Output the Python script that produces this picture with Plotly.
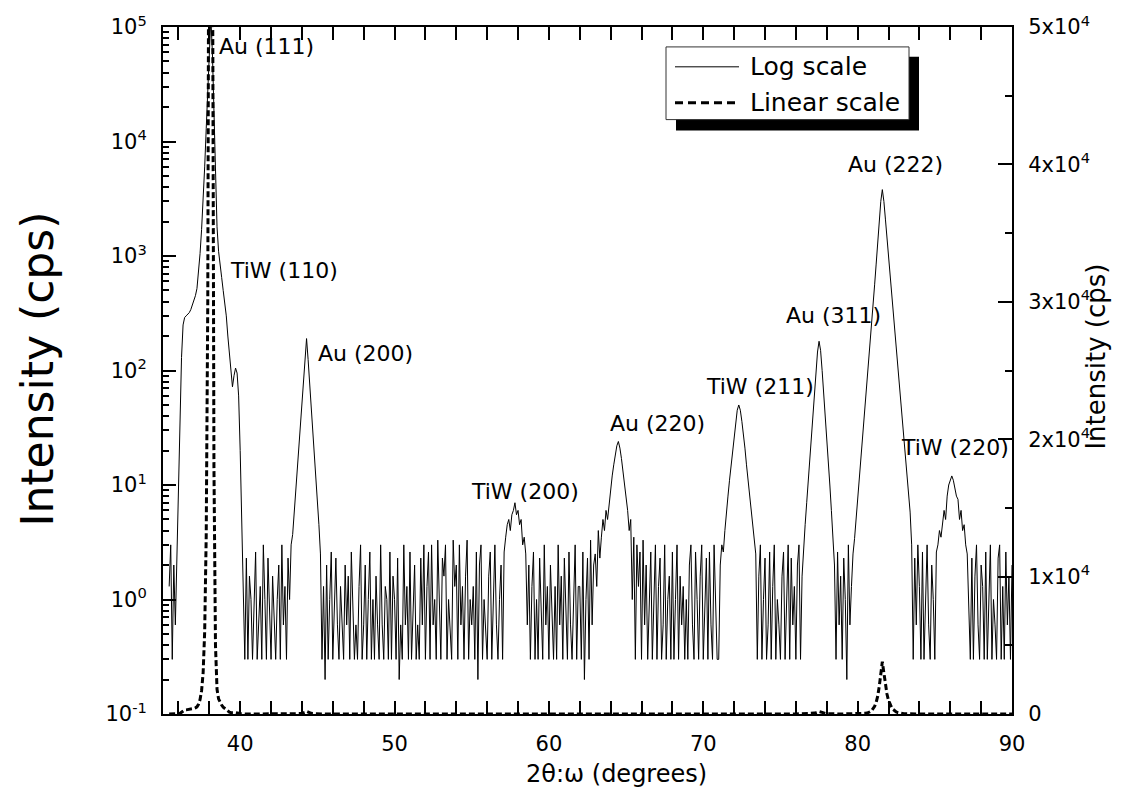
import plotly.graph_objects as go

# ---------------- data ----------------
# 2theta sampling grid: 35.4 deg .. 90.0 deg, 0.1 deg steps
two_theta_start = 35.4
two_theta_step = 0.1

# measured intensity (cps), one row per degree
intensity_cps = [
    1.3, 3, 0.3, 2, 0.6, 2.6,                                   # 35.4-35.9
    8, 40, 130, 250, 290, 300, 310, 320, 340, 370,              # 36
    400, 450, 520, 700, 1050, 1700, 3000, 6000, 13000, 30000,   # 37
    70000, 120000, 60000, 18000, 5000, 1800, 1100, 800, 650, 500,  # 38
    400, 300, 200, 140, 95, 72, 90, 105, 95, 60,                # 39
    20, 5, 1.3, 0.3, 2.3, 0.3, 1.6, 1, 0.3, 1,                  # 40
    2.6, 0.3, 0.6, 1.3, 0.3, 3, 1, 0.3, 2.3, 0.6,               # 41
    0.3, 1.6, 0.6, 0.3, 1, 2, 0.3, 3, 0.6, 1.3,                 # 42
    0.3, 2.3, 1, 3, 3.7, 5.6, 8.5, 13, 20, 30,                  # 43
    45, 70, 115, 190, 125, 80, 50, 32, 20, 12,                  # 44
    7.5, 4.5, 2.5, 0.3, 1.3, 0.2, 2, 0.3, 1, 2.6,               # 45
    0.3, 1, 2.3, 0.6, 0.3, 1.3, 0.6, 0.3, 2, 0.6,               # 46
    1.6, 0.3, 2.6, 1, 0.3, 0.6, 0.3, 1.3, 3, 0.3,               # 47
    0.6, 2, 0.3, 1, 2.6, 0.3, 1, 0.3, 1.6, 0.6,                 # 48
    0.3, 3, 0.6, 0.3, 1.3, 1, 0.3, 2.6, 0.3, 1.6,               # 49
    1, 0.3, 2.3, 0.2, 0.6, 0.3, 3, 0.6, 1.3, 0.3,               # 50
    2.6, 0.3, 1, 2, 0.3, 0.6, 0.3, 2.3, 0.6, 3,                 # 51
    0.3, 1.3, 2.6, 0.3, 3, 0.6, 1, 0.3, 3.3, 1,                 # 52
    0.3, 2.3, 1.6, 3, 0.3, 1, 0.6, 0.3, 3.3, 1.3,               # 53
    2, 0.3, 3, 0.6, 1.3, 0.3, 1.6, 3.3, 0.3, 1,                 # 54
    0.6, 1.3, 0.3, 2.6, 0.2, 2, 3, 0.3, 1, 0.6,                 # 55
    0.3, 1.6, 2.6, 0.3, 1.3, 3, 0.6, 0.3, 1, 2,                 # 56
    0.3, 2.6, 3.5, 4.5, 5, 4, 5.5, 6, 7, 5.5,                   # 57
    6, 4.5, 5, 3, 3.5, 2.5, 0.6, 2, 0.3, 1.3,                   # 58
    2.6, 0.3, 1, 0.3, 2.3, 1, 0.3, 3, 0.6, 1.3,                 # 59
    0.3, 2, 0.6, 0.3, 1.3, 0.3, 3, 0.6, 1.6, 0.3,               # 60
    2.3, 1, 0.3, 2.6, 0.6, 0.3, 1, 3, 0.3, 1.3,                 # 61
    1.3, 0.3, 2.6, 0.2, 1, 2.3, 0.3, 3.3, 0.6, 2,               # 62
    2.5, 1.3, 4, 2.3, 3.5, 5, 4, 6, 5, 7,                       # 63
    9, 12, 15, 19, 22, 24, 21, 17, 13, 10,                      # 64
    8, 6, 4, 5, 1, 3.5, 0.3, 3, 1.3, 2.6,                       # 65
    0.3, 3.3, 0.6, 2, 0.3, 1, 2.6, 0.3, 1, 3,                   # 66
    0.3, 1.3, 2.3, 0.3, 0.6, 3, 0.3, 1, 1.6, 0.3,               # 67
    2.6, 0.3, 1, 3, 0.3, 1.6, 0.6, 1.3, 0.3, 1,                 # 68
    0.3, 2, 3, 0.6, 0.3, 2.6, 1, 0.3, 1.6, 3,                   # 69
    0.3, 1, 2.3, 0.3, 2.6, 0.6, 0.3, 3, 1, 0.3,                 # 70
    0.3, 2, 3, 2.6, 4, 6, 8, 11, 15, 20,                        # 71
    27, 35, 45, 50, 45, 36, 28, 21, 15, 11,                     # 72
    8, 6, 4.5, 3.5, 2.5, 0.3, 1.6, 3, 0.3, 1,                   # 73
    2.3, 0.3, 0.6, 2.6, 0.3, 1.3, 3, 0.3, 1, 0.6,               # 74
    0.3, 1.6, 2.6, 0.3, 1, 3, 0.3, 2.3, 0.6, 1.3,               # 75
    0.3, 2, 3, 0.3, 1.6, 3, 4.5, 7, 11, 17,                     # 76
    27, 42, 65, 100, 145, 180, 150, 100, 65, 42,                # 77
    26, 16, 10, 6, 3.5, 2, 0.3, 2.6, 0.6, 1.6,                  # 78
    0.3, 2.3, 1, 0.2, 3, 0.6, 1.3, 2.5, 3.4, 5,                 # 79
    7, 10, 15, 22, 32, 48, 70, 105, 160, 240,                   # 80
    370, 560, 850, 1300, 2000, 3000, 3800, 3000, 2100, 1450,    # 81
    1000, 690, 475, 330, 225, 155, 107, 74, 51, 35,             # 82
    24, 17, 12, 8, 5.8, 3, 0.3, 2.3, 0.6, 3,                    # 83
    1.3, 0.3, 2.6, 0.3, 1, 3, 0.6, 0.3, 2, 1,                   # 84
    0.3, 2.6, 3, 4, 3.5, 5, 6, 5, 8, 10,                        # 85
    11, 12, 11, 9.5, 8, 7.5, 5, 6, 4, 4.5,                      # 86
    3, 2.5, 1, 0.3, 2.3, 0.3, 1.6, 3, 0.6, 0.3,                 # 87
    2, 1.3, 0.3, 2.6, 0.3, 1, 3, 0.3, 1, 0.6,                   # 88
    0.3, 2.3, 3, 0.3, 1.3, 0.3, 2.6, 0.6, 1.6, 0.3,             # 89
    2,                                                          # 90.0
]
two_theta = [round(two_theta_start + two_theta_step * i, 1) for i in range(len(intensity_cps))]

# peak labels: text, 2theta position, log10(intensity) position
peak_labels = ["Au (111)", "TiW (110)", "Au (200)", "TiW (200)", "Au (220)",
               "TiW (211)", "Au (311)", "Au (222)", "TiW (220)"]
peak_label_x = [38.5, 39.2, 44.9, 54.85, 63.85, 70.05, 75.2, 79.25, 82.7]
peak_label_logy = [4.83, 2.87, 2.15, 0.94, 1.54, 1.86, 2.48, 3.8, 1.33]

# axis ticks
x_tickvals = [40, 50, 60, 70, 80, 90]
log_tickvals = [0.1, 1, 10, 100, 1000, 10000, 100000]
log_ticktext = ["10<sup>-1</sup>", "10<sup>0</sup>", "10<sup>1</sup>", "10<sup>2</sup>",
                "10<sup>3</sup>", "10<sup>4</sup>", "10<sup>5</sup>"]
log_minor = [m * 10 ** e for e in range(-1, 5) for m in range(2, 10)]
lin_tickvals = [0, 10000, 20000, 30000, 40000, 50000]
lin_ticktext = ["0", "1x10<sup>4</sup>", "2x10<sup>4</sup>", "3x10<sup>4</sup>",
                "4x10<sup>4</sup>", "5x10<sup>4</sup>"]

series_names = ["Log scale", "Linear scale"]

# ---------------- figure ----------------
FONT = "DejaVu Sans, Liberation Sans, Arial, sans-serif"
W, H = 1121, 803
L, R, T, B = 163, 109, 24, 89
PW, PH = W - L - R, H - T - B


def px(xp):
    return (xp - L) / PW


def py(yp):
    return (H - B - yp) / PH


fig = go.Figure()
fig.add_trace(go.Scatter(x=two_theta, y=intensity_cps, mode="lines", name=series_names[0],
                         line=dict(color="black", width=1), yaxis="y"))
fig.add_trace(go.Scatter(x=two_theta, y=intensity_cps, mode="lines", name=series_names[1],
                         line=dict(color="black", width=3, dash="6px,3px"), yaxis="y2"))

axis_common = dict(showline=True, linecolor="black", linewidth=2, showgrid=False,
                   zeroline=False, ticks="inside", tickcolor="black",
                   tickfont=dict(family=FONT, size=21, color="black"))

fig.update_layout(
    width=W, height=H,
    margin=dict(l=L, r=R, t=T, b=B, pad=0),
    paper_bgcolor="white", plot_bgcolor="white",
    showlegend=False,
    font=dict(family=FONT, size=21, color="black"),
    xaxis=dict(range=[35, 90], tickvals=x_tickvals, ticklen=13, tickwidth=2,
               mirror="allticks", ticklabelstandoff=10,
               minor=dict(ticks="inside", dtick=2, tick0=0, ticklen=6, tickwidth=1.5,
                          tickcolor="black"),
               **axis_common),
    yaxis=dict(type="log", range=[-1, 5], tickvals=log_tickvals, ticktext=log_ticktext,
               ticklen=13, tickwidth=2, ticklabelstandoff=10,
               minor=dict(ticks="inside", tickvals=log_minor, ticklen=6, tickwidth=1.5,
                          tickcolor="black"),
               **axis_common),
    yaxis2=dict(overlaying="y", side="right", range=[0, 50000], tickvals=lin_tickvals,
                ticktext=lin_ticktext, ticklen=14, tickwidth=2, ticklabelstandoff=10,
                minor=dict(ticks="inside", dtick=5000, tick0=0, ticklen=7, tickwidth=1.5,
                           tickcolor="black"),
                **axis_common),
)

annotations = []
for t, xv, yv in zip(peak_labels, peak_label_x, peak_label_logy):
    annotations.append(dict(x=xv, y=yv, xref="x", yref="y", text=t, showarrow=False,
                            xanchor="left", yanchor="middle",
                            font=dict(family=FONT, size=22, color="black")))

# axis titles
annotations.append(dict(x=px(38), y=py(368), xref="paper", yref="paper",
                        text="Intensity (cps)", textangle=-90, showarrow=False,
                        xanchor="center", yanchor="middle",
                        font=dict(family=FONT, size=44, color="black")))
annotations.append(dict(x=px(1096), y=py(355), xref="paper", yref="paper",
                        text="Intensity (cps)", textangle=-90, showarrow=False,
                        xanchor="center", yanchor="middle",
                        font=dict(family=FONT, size=26, color="black")))
annotations.append(dict(x=px(616), y=py(774), xref="paper", yref="paper",
                        text="2θ:ω (degrees)", showarrow=False,
                        xanchor="center", yanchor="middle",
                        font=dict(family=FONT, size=24, color="black")))

# legend (drawn box with drop shadow)
annotations.append(dict(x=px(748), y=py(64), xref="paper", yref="paper",
                        text=series_names[0], showarrow=False, xanchor="left",
                        yanchor="middle", font=dict(family=FONT, size=25, color="black")))
annotations.append(dict(x=px(748), y=py(100), xref="paper", yref="paper",
                        text=series_names[1], showarrow=False, xanchor="left",
                        yanchor="middle", font=dict(family=FONT, size=25, color="black")))

shapes = [
    dict(type="rect", xref="paper", yref="paper", x0=px(676), x1=px(919), y0=py(128), y1=py(54),
         fillcolor="black", line=dict(width=0), layer="above"),
    dict(type="rect", xref="paper", yref="paper", x0=px(666), x1=px(909), y0=py(117), y1=py(44),
         fillcolor="white", line=dict(color="#333333", width=1), layer="above"),
    dict(type="line", xref="paper", yref="paper", x0=px(675), x1=px(739), y0=py(64), y1=py(64),
         line=dict(color="black", width=1), layer="above"),
    dict(type="line", xref="paper", yref="paper", x0=px(675), x1=px(739), y0=py(100), y1=py(100),
         line=dict(color="black", width=3, dash="8px,5px"), layer="above"),
]

fig.update_layout(annotations=annotations, shapes=shapes)
fig.write_html("out.html")
